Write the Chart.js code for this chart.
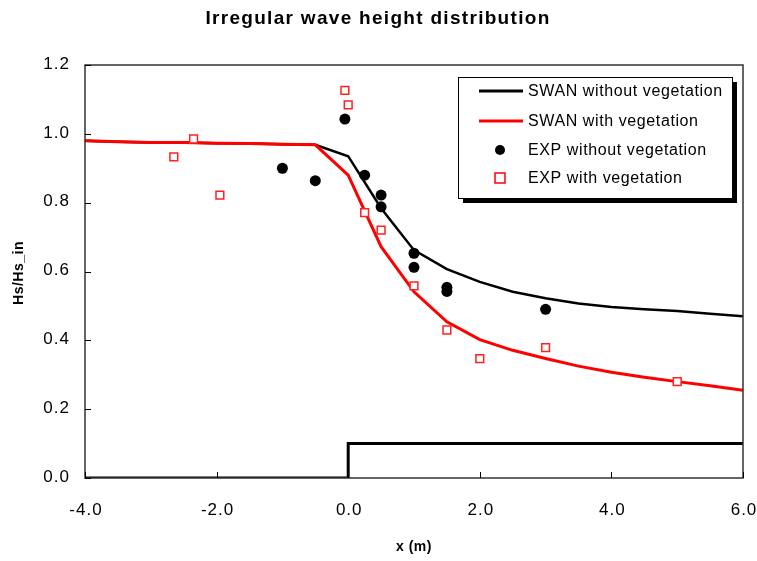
<!DOCTYPE html>
<html>
<head>
<meta charset="utf-8">
<script src="https://cdn.jsdelivr.net/npm/chart.js@4.4.1/dist/chart.umd.min.js"></script>
<style>
  html, body { margin: 0; padding: 0; background: #fff; }
  #wrap { width: 757px; height: 561px; }
</style>
</head>
<body>
<div id="wrap"><canvas id="grafico" width="757" height="561"></canvas></div>
<script>
// dados
var xModelo = [-4, -3.5, -3, -2.5, -2, -1.5, -1, -0.5, 0, 0.5, 1, 1.5, 2, 2.5, 3, 3.5, 4, 4.5, 5, 5.5, 6];
var swanSemVeg = [0.98, 0.977, 0.975, 0.975, 0.973, 0.972, 0.970, 0.968, 0.935, 0.784, 0.662, 0.607, 0.570, 0.541, 0.522, 0.507, 0.497, 0.490, 0.485, 0.477, 0.470];
var swanComVeg = [0.98, 0.977, 0.975, 0.975, 0.973, 0.972, 0.970, 0.968, 0.880, 0.672, 0.541, 0.454, 0.402, 0.371, 0.347, 0.325, 0.307, 0.293, 0.280, 0.268, 0.255];

var expSemVegX = [-1, -0.5, -0.05, 0.25, 0.5, 0.5, 1, 1, 1.5, 1.5, 3];
var expSemVegY = [0.90, 0.864, 1.043, 0.88, 0.822, 0.788, 0.653, 0.612, 0.554, 0.542, 0.49];
var expComVegX = [-2.65, -2.35, -1.95, -0.05, 0, 0.25, 0.5, 1, 1.5, 2, 3, 5];
var expComVegY = [0.933, 0.985, 0.822, 1.126, 1.084, 0.771, 0.72, 0.558, 0.43, 0.347, 0.379, 0.28];

var fundoX = [-4, 0, 0, 6];
var fundoY = [0, 0, 0.1, 0.1];

var ticksX = [-4, -2, 0, 2, 4, 6];
var ticksY = [0, 0.2, 0.4, 0.6, 0.8, 1.0, 1.2];

var legendas = ['SWAN without vegetation', 'SWAN with vegetation', 'EXP without vegetation', 'EXP with vegetation'];

function pares(xs, ys) {
    return xs.map(function (x, i) { return { x: x, y: ys[i] }; });
}

var fonte = '"Liberation Sans", Arial, sans-serif';

// plugin para titulo, eixos, ticks internos e legenda
var extras = {
    id: 'extras',
    afterDraw: function (chart) {
        var ctx = chart.ctx;
        var a = chart.chartArea;
        var sx = chart.scales.x, sy = chart.scales.y;
        ctx.save();

        // borda da area
        ctx.strokeStyle = '#333';
        ctx.lineWidth = 1.5;
        ctx.strokeRect(a.left, a.top, a.right - a.left, a.bottom - a.top);

        // ticks internos
        ctx.strokeStyle = '#000';
        ctx.lineWidth = 1;
        ticksX.forEach(function (v) {
            var px = Math.round(sx.getPixelForValue(v)) + 0.5;
            ctx.beginPath(); ctx.moveTo(px, a.bottom); ctx.lineTo(px, a.bottom - 6); ctx.stroke();
        });
        ticksY.forEach(function (v) {
            var py = Math.round(sy.getPixelForValue(v)) + 0.5;
            ctx.beginPath(); ctx.moveTo(a.left, py); ctx.lineTo(a.left + 6, py); ctx.stroke();
        });

        // rotulos dos ticks
        ctx.fillStyle = '#000';
        ctx.font = '17px ' + fonte;
        ctx.letterSpacing = '1px';
        ctx.textBaseline = 'middle';
        ctx.textAlign = 'center';
        ticksX.forEach(function (v) {
            ctx.fillText(v.toFixed(1), sx.getPixelForValue(v) + 1, 510);
        });
        ctx.textAlign = 'right';
        ticksY.forEach(function (v) {
            ctx.fillText(v.toFixed(1), 70, sy.getPixelForValue(v) - 1);
        });

        // titulo
        ctx.textAlign = 'center';
        ctx.font = 'bold 19px ' + fonte;
        ctx.letterSpacing = '1.3px';
        ctx.fillText('Irregular wave height distribution', 378, 19);

        // titulos dos eixos
        ctx.letterSpacing = '0.5px';
        ctx.font = 'bold 14px ' + fonte;
        ctx.fillText('x (m)', (a.left + a.right) / 2, 547);
        ctx.save();
        ctx.translate(19, 273);
        ctx.rotate(-Math.PI / 2);
        ctx.fillText('Hs/Hs_in', 0, 0);
        ctx.restore();

        // legenda
        var lx = 458, ly = 77, lw = 274, lh = 121;
        ctx.fillStyle = '#000';
        ctx.fillRect(lx + 5, ly + 5, lw, lh);
        ctx.fillStyle = '#fff';
        ctx.fillRect(lx, ly, lw, lh);
        ctx.strokeStyle = '#000';
        ctx.lineWidth = 1;
        ctx.strokeRect(lx + 0.5, ly + 0.5, lw, lh);

        var linhas = [91, 121, 150, 178];
        ctx.font = '16px ' + fonte;
        ctx.letterSpacing = '0.6px';
        ctx.textAlign = 'left';
        linhas.forEach(function (yy, i) {
            if (i < 2) {
                ctx.strokeStyle = i === 0 ? '#000' : '#ff0000';
                ctx.lineWidth = 3;
                ctx.beginPath(); ctx.moveTo(479, yy); ctx.lineTo(523, yy); ctx.stroke();
            } else if (i === 2) {
                ctx.fillStyle = '#000';
                ctx.beginPath(); ctx.arc(500, yy, 5, 0, Math.PI * 2); ctx.fill();
            } else {
                ctx.fillStyle = '#fff';
                ctx.strokeStyle = '#ff0000';
                ctx.lineWidth = 1.5;
                ctx.fillRect(495, yy - 5, 10, 10);
                ctx.strokeRect(495, yy - 5, 10, 10);
            }
            ctx.fillStyle = '#000';
            ctx.fillText(legendas[i], 528, yy + 1);
        });

        ctx.restore();
    }
};

var ctx = document.getElementById('grafico').getContext('2d');

var config = {
    type: 'scatter',
    data: {
        datasets: [
            {
                label: legendas[3],
                data: pares(expComVegX, expComVegY),
                pointStyle: 'rect',
                pointRadius: 5.5,
                pointBackgroundColor: '#fff',
                pointBorderColor: '#ff2020',
                pointBorderWidth: 1.5,
                showLine: false,
                order: 1
            },
            {
                label: legendas[2],
                data: pares(expSemVegX, expSemVegY),
                pointStyle: 'circle',
                pointRadius: 5.5,
                pointBackgroundColor: '#000',
                pointBorderColor: '#000',
                pointBorderWidth: 0,
                showLine: false,
                order: 2
            },
            {
                label: legendas[1],
                data: pares(xModelo, swanComVeg),
                showLine: true,
                borderColor: '#ff0000',
                borderWidth: 3,
                pointRadius: 0,
                fill: false,
                order: 3
            },
            {
                label: legendas[0],
                data: pares(xModelo, swanSemVeg),
                showLine: true,
                borderColor: '#000',
                borderWidth: 2.5,
                pointRadius: 0,
                fill: false,
                order: 4
            },
            {
                label: 'bottom',
                data: pares(fundoX, fundoY),
                showLine: true,
                borderColor: '#000',
                borderWidth: 3,
                pointRadius: 0,
                fill: false,
                order: 5
            }
        ]
    },
    options: {
        responsive: false,
        animation: false,
        layout: { padding: { top: 65, right: 14, bottom: 0, left: 0 } },
        plugins: {
            legend: { display: false },
            tooltip: { enabled: false },
            title: { display: false }
        },
        scales: {
            x: {
                type: 'linear',
                min: -4, max: 6,
                afterBuildTicks: function (s) { s.ticks = ticksX.map(function (v) { return { value: v }; }); },
                afterFit: function (s) { s.height = 83; s.paddingLeft = 0; s.paddingRight = 0; },
                grid: { display: false, drawTicks: false },
                border: { display: false },
                ticks: { display: false }
            },
            y: {
                type: 'linear',
                min: 0, max: 1.2,
                afterBuildTicks: function (s) { s.ticks = ticksY.map(function (v) { return { value: v }; }); },
                afterFit: function (s) { s.width = 85; s.paddingTop = 0; s.paddingBottom = 0; },
                grid: { display: false, drawTicks: false },
                border: { display: false },
                ticks: { display: false }
            }
        }
    },
    plugins: [extras]
};

var graficoOndas = new Chart(ctx, config);
</script>
</body>
</html>
